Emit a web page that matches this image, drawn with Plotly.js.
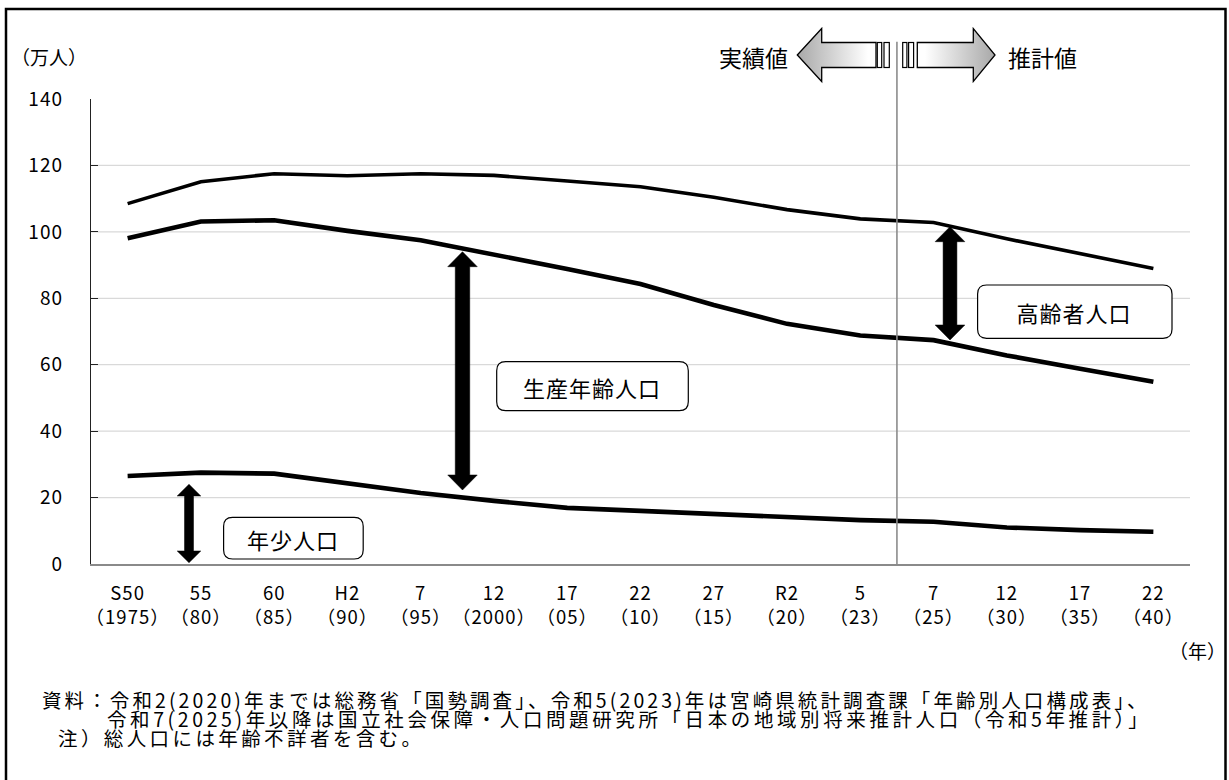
<!DOCTYPE html>
<html>
<head>
<meta charset="utf-8">
<script src="https://cdn.plot.ly/plotly-3.0.1.min.js"></script>
<style>
  html, body { margin: 0; padding: 0; background: #fff; }
  #chart { width: 1229px; height: 780px; }
  #chart g.xtick text, #chart g.ytick text { letter-spacing: 1px; }
  #chart g.annotation[data-index="7"] text { letter-spacing: 3.1px; }
  #chart g.annotation[data-index="8"] text { letter-spacing: 3.6px; }
  #chart g.annotation[data-index="9"] text { letter-spacing: 3.4px; }
  #chart g.annotation[data-index="3"] text,
  #chart g.annotation[data-index="4"] text,
  #chart g.annotation[data-index="5"] text { letter-spacing: 1px; }
</style>
</head>
<body>
<div id="chart"></div>
<script>
// ---- data (万人) ----
const categories = [
  "S50<br>（1975）", "55<br>（80）", "60<br>（85）", "H2<br>（90）", "7<br>（95）",
  "12<br>（2000）", "17<br>（05）", "22<br>（10）", "27<br>（15）", "R2<br>（20）",
  "5<br>（23）", "7<br>（25）", "12<br>（30）", "17<br>（35）", "22<br>（40）"
];
// 総人口
const totalPop = [108.5, 115.1, 117.5, 116.9, 117.5, 117.0, 115.3, 113.6, 110.4, 106.7, 103.9, 102.8, 97.9, 93.4, 89.0];
// 年少人口＋生産年齢人口
const youngWorkingPop = [98.1, 103.1, 103.5, 100.3, 97.5, 93.3, 88.8, 84.3, 78.0, 72.3, 68.8, 67.4, 62.8, 58.8, 54.9];
// 年少人口
const youngPop = [26.5, 27.5, 27.2, 24.2, 21.4, 19.0, 16.9, 16.0, 15.0, 14.0, 13.2, 12.7, 11.0, 10.2, 9.7];

const yTickVals = [0, 20, 40, 60, 80, 100, 120, 140];
const gridVals = [20, 40, 60, 80, 100, 120];
const boundaryIndex = 10.5; // 実績値 / 推計値 の境目

// ---- pixel helpers (plot area: x 91..1190, y 99..564) ----
const L = 91, T = 99, W = 1099, H = 465;
const px = x => (x - L) / W;
const py = y => (T + H - y) / H;
const P = (x, y) => px(x).toFixed(5) + "," + py(y).toFixed(5);

function doubleArrow(cx, yTop, yBot, hw, sw, hh) {
  const a = hw / 2, b = sw / 2;
  return "M" + P(cx, yTop) + " L" + P(cx + a, yTop + hh) + " L" + P(cx + b, yTop + hh) +
    " L" + P(cx + b, yBot - hh) + " L" + P(cx + a, yBot - hh) + " L" + P(cx, yBot) +
    " L" + P(cx - a, yBot - hh) + " L" + P(cx - b, yBot - hh) + " L" + P(cx - b, yTop + hh) +
    " L" + P(cx - a, yTop + hh) + " Z";
}
function roundRect(x0, y0, x1, y1, r) {
  return "M" + P(x0 + r, y0) + " L" + P(x1 - r, y0) + " Q" + P(x1, y0) + " " + P(x1, y0 + r) +
    " L" + P(x1, y1 - r) + " Q" + P(x1, y1) + " " + P(x1 - r, y1) +
    " L" + P(x0 + r, y1) + " Q" + P(x0, y1) + " " + P(x0, y1 - r) +
    " L" + P(x0, y0 + r) + " Q" + P(x0, y0) + " " + P(x0 + r, y0) + " Z";
}

const FONT = "Noto Sans CJK JP, Noto Sans, sans-serif";

const mkLine = (vals, w) => ({
  x: categories, y: vals, type: "scatter", mode: "lines",
  line: { color: "#000", width: w }, hoverinfo: "skip", showlegend: false
});
const traces = [mkLine(totalPop, 3.6), mkLine(youngWorkingPop, 4.6), mkLine(youngPop, 4.6)];

const shapes = [];
gridVals.forEach(v => shapes.push({
  type: "line", xref: "paper", yref: "y", x0: 0, x1: 1, y0: v, y1: v,
  line: { color: "#d9d9d9", width: 1.3 }, layer: "below"
}));
// boundary line
shapes.push({
  type: "line", xref: "x", yref: "paper", x0: boundaryIndex, x1: boundaryIndex,
  y0: 0, y1: py(41.7), line: { color: "#8c8c8c", width: 1.6 }, layer: "above"
});
// outer border (bottom edge lies just past the picture, as in the reference)
shapes.push({
  type: "rect", xref: "paper", yref: "paper",
  x0: px(6), x1: px(1225.5), y0: py(9), y1: py(783),
  line: { color: "#000", width: 2.5 }, fillcolor: "rgba(0,0,0,0)"
});
// black double arrows
[[189, 484.3, 562.7, 23.6, 9, 11.7],
 [462.5, 251.7, 490, 29.5, 14.5, 15],
 [950, 226.7, 340, 29.7, 13.8, 15]].forEach(a => shapes.push({
  type: "path", xref: "paper", yref: "paper", path: doubleArrow(...a),
  fillcolor: "#000", line: { color: "#000", width: 0.5 }
}));
// label boxes
[[223.6, 517.3, 363.2, 559, 9],
 [496.7, 361.7, 688.3, 410.7, 9],
 [977.6, 285, 1172, 338.3, 9]].forEach(b => shapes.push({
  type: "path", xref: "paper", yref: "paper", path: roundRect(...b),
  fillcolor: "#fff", line: { color: "#000", width: 1.2 }
}));

// block arrows (実績値 / 推計値) as SVG image
const svg =
  '<svg xmlns="http://www.w3.org/2000/svg" width="210" height="62" viewBox="790 24 210 62">' +
  '<defs>' +
  '<linearGradient id="gl" x1="0" y1="0" x2="1" y2="0"><stop offset="0" stop-color="#a8a8a8"/><stop offset="0.9" stop-color="#ffffff"/></linearGradient>' +
  '<linearGradient id="gr" x1="0" y1="0" x2="1" y2="0"><stop offset="0.1" stop-color="#ffffff"/><stop offset="1" stop-color="#a8a8a8"/></linearGradient>' +
  '</defs>' +
  '<path d="M797.3,55 L821.7,28.5 L821.7,42.5 L876,42.5 L876,67.5 L821.7,67.5 L821.7,81.5 Z" fill="url(#gl)" stroke="#000" stroke-width="1.3"/>' +
  '<rect x="877.3" y="42.5" width="4.4" height="25" fill="#fff" stroke="#000" stroke-width="1.2"/>' +
  '<rect x="884" y="42.5" width="5.3" height="25" fill="#fff" stroke="#000" stroke-width="1.2"/>' +
  '<rect x="902.7" y="42.5" width="4.2" height="25" fill="#fff" stroke="#000" stroke-width="1.2"/>' +
  '<rect x="908.6" y="42.5" width="5" height="25" fill="#fff" stroke="#000" stroke-width="1.2"/>' +
  '<path d="M917.3,42.5 L973.3,42.5 L973.3,28.5 L995,55 L973.3,81.5 L973.3,67.5 L917.3,67.5 Z" fill="url(#gr)" stroke="#000" stroke-width="1.3"/>' +
  '</svg>';
const images = [{
  source: "data:image/svg+xml;charset=utf-8," + encodeURIComponent(svg),
  xref: "paper", yref: "paper", x: px(790), y: py(24), sizex: 210 / W, sizey: 62 / H,
  xanchor: "left", yanchor: "top", sizing: "stretch", layer: "above"
}];

const ann = (text, x, y, size, xanchor) => ({
  text: text, xref: "paper", yref: "paper", x: px(x), y: py(y),
  xanchor: xanchor || "center", yanchor: "middle", showarrow: false,
  align: xanchor === "left" ? "left" : "center",
  font: { family: FONT, size: size, color: "#000" }
});
const annotations = [
  ann("（万人）", 49, 57, 19),
  ann("実績値", 753, 57, 23),
  ann("推計値", 1042, 57, 23),
  ann("年少人口", 292.5, 539, 22),
  ann("生産年齢人口", 592, 387, 22),
  ann("高齢者人口", 1074, 312, 22),
  ann("（年）", 1197, 650, 19),
  ann("資料：令和2(2020)年までは総務省「国勢調査」、令和5(2023)年は宮崎県統計調査課「年齢別人口構成表」、", 40, 699, 19.5, "left"),
  ann("令和7(2025)年以降は国立社会保障・人口問題研究所「日本の地域別将来推計人口（令和5年推計）」", 105, 718, 19.5, "left"),
  ann("注）総人口には年齢不詳者を含む。", 56, 737, 19.5, "left")
];

const layout = {
  width: 1229, height: 780,
  margin: { l: L, r: 1229 - L - W, t: T, b: 780 - T - H, pad: 0 },
  paper_bgcolor: "#fff", plot_bgcolor: "rgba(0,0,0,0)",
  font: { family: FONT, color: "#000" },
  showlegend: false,
  xaxis: {
    type: "category", range: [-0.5, categories.length - 0.5],
    showgrid: false, zeroline: false,
    showline: true, linecolor: "#8a8a8a", linewidth: 2,
    ticks: "", tickfont: { family: FONT, size: 18.5, color: "#000" },
    ticklabelstandoff: 12, fixedrange: true
  },
  yaxis: {
    range: [0, 140], tickvals: yTickVals, ticktext: yTickVals.map(String),
    showgrid: false, zeroline: false, showline: true, linecolor: "#222", linewidth: 1.2,
    ticks: "inside", ticklen: 7, tickcolor: "#222", tickwidth: 1.2,
    tickfont: { family: FONT, size: 19, color: "#000" },
    ticklabelstandoff: 23, fixedrange: true
  },
  shapes: shapes,
  annotations: annotations,
  images: images
};

Plotly.newPlot("chart", traces, layout, { displayModeBar: false, staticPlot: true });
</script>
</body>
</html>
